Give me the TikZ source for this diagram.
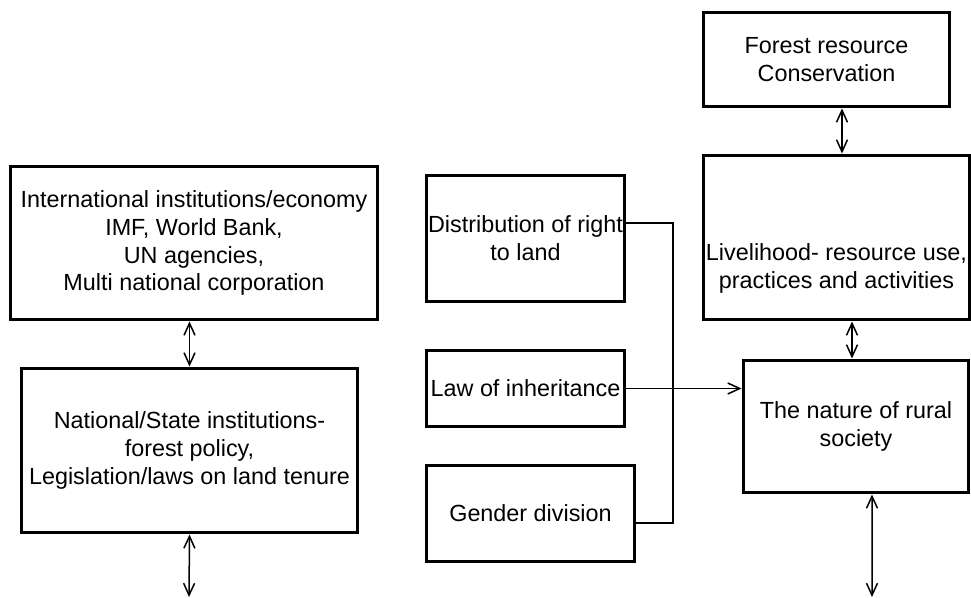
\documentclass[tikz,border=0pt]{standalone}
\usepackage{fontspec}
\setmainfont{Liberation Sans}
\usepackage{tikz}
\usetikzlibrary{arrows.meta,positioning,calc}

\begin{document}
\begin{tikzpicture}[x=0.02cm, y=-0.02cm, >={Straight Barb[length=2.4mm,width=2.2mm]},
    box/.style={draw, line width=0.6mm, align=center, inner sep=0pt,
      font=\fontsize{13.3pt}{15.9pt}\selectfont},
    lbl/.style={align=center, inner sep=0pt, font=\fontsize{13.3pt}{15.9pt}\selectfont},
    link/.style={line width=0.3mm}]
    \useasboundingbox (0,0) rectangle (971,598);
    % --- left column: institutions ---
    \node[box, minimum width=73.6mm, minimum height=30.8mm] (intl) at (194,243)
      {International institutions/economy\\IMF, World Bank,\\UN agencies,\\Multi national corporation};
    \node[box, minimum width=67.4mm, minimum height=33mm] (natl) at (189.5,450.5)
      {National/State institutions-\\forest policy,\\Legislation/laws on land tenure};
    \coordinate (natlout) at (189,597);
    % --- middle column: land and family ---
    \node[box, minimum width=39.8mm, minimum height=25.4mm] (dist) at (525.5,238.5)
      {Distribution of right\\to land};
    \node[box, minimum width=39.8mm, minimum height=15.4mm] (law) at (525.5,388.5)
      {Law of inheritance};
    \node[box, minimum width=41.8mm, minimum height=19.4mm] (gender) at (530.5,513.5)
      {Gender division};
    \coordinate (join) at (673,388.5);
    % --- right column: rural society ---
    \node[box, minimum width=49.4mm, minimum height=19mm] (forest) at (826.5,59.5)
      {Forest resource\\Conservation};
    \node[box, minimum width=53.4mm, minimum height=33mm] (live) at (836.5,237.5) {};
    \node[lbl] (livetxt) at (836.5,268.5)
      {Livelihood- resource use,\\practices and activities};
    \node[box, minimum width=45.2mm, minimum height=26.6mm] (nature) at (856,426.5)
      {The nature of rural\\society};
    \coordinate (natureout) at (872,597);
    % --- connectors ---
    \draw[link, <->] (natl.north) -- (natl.north |- intl.south);
    \draw[link, <->] (natl.south) -- (natlout);
    \draw[link, <->] ([xshift=3.1mm]forest.south) -- ([xshift=3.1mm]forest.south |- live.north);
    \draw[link, <->] ([xshift=-0.8mm]nature.north) -- ([xshift=-0.8mm]nature.north |- live.south);
    \draw[link, <->] ([xshift=3.2mm]nature.south) -- (natureout);
    \draw[link] ([yshift=3.1mm]dist.east) -| (join) |- ([yshift=-1.9mm]gender.east);
    \draw[link, ->] (law.east) -- (law.east -| nature.west);
\end{tikzpicture}
\end{document}
